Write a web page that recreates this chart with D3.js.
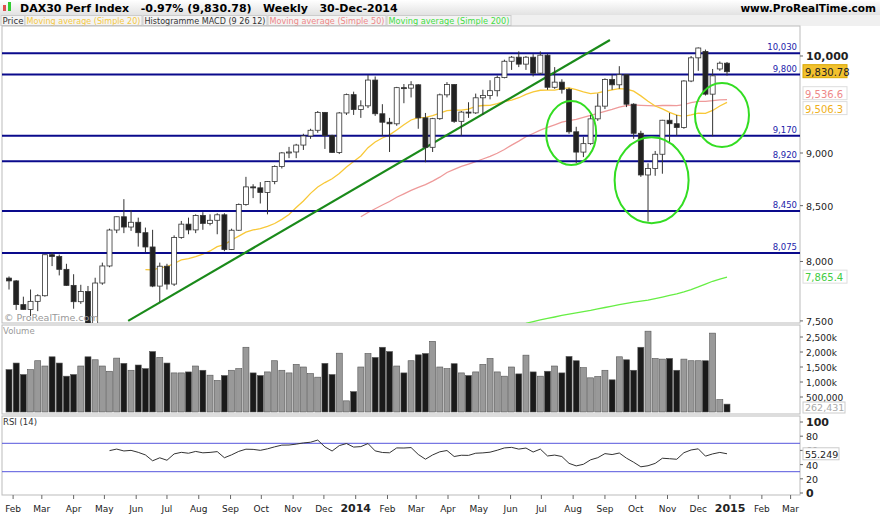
<!DOCTYPE html>
<html><head><meta charset="utf-8">
<script src="https://cdn.jsdelivr.net/npm/d3@7"></script>
<style>
body{margin:0;background:#fff;font-family:"DejaVu Sans",Verdana,sans-serif;}
svg text{font-family:"DejaVu Sans",Verdana,sans-serif;}
</style></head><body>
<div id="chart"></div>
<script>
// weekly candles, first week starts 28-Jan-2013
const opens = [7857,7833,7634,7594,7661,7708,8059,8043,7932,7795,7658,7744,7459,7815,7961,8278,8398,8305,8348,8254,8127,7789,7959,7806,8212,8331,8279,8410,8338,8366,8416,8104,8276,8510,8675,8666,8623,8725,8869,9001,9010,9078,9168,9225,9406,9172,9006,9400,
  9589,9435,9473,9742,9392,9306,9290,9662,9657,9692,9350,9056,9342,9587,9695,9315,9409,9401,9556,9581,9630,9768,9943,9987,9912,9987,9815,10009,9666,9720,9644,9210,9009,9092,9340,9470,9747,9692,9799,9490,9195,8788,8850,8988,9326,9291,9252,9732,9980,10050,9594,9860,9922];
const highs = [7871,7840,7700,7760,7720,8060,8080,8060,7980,7890,7800,7790,7860,7990,8290,8400,8560,8460,8390,8300,8280,7990,7980,8230,8360,8390,8420,8440,8420,8430,8430,8290,8520,8770,8700,8720,8730,8880,9010,9060,9090,9190,9240,9420,9410,9180,9410,9600,
  9620,9530,9795,9780,9490,9350,9670,9700,9730,9700,9400,9350,9600,9720,9700,9420,9510,9600,9640,9740,9790,9960,10000,10050,10000,10020,10050,10020,9880,9750,9660,9260,9160,9380,9600,9760,9800,9890,9800,9500,9220,8900,9020,9330,9400,9380,9740,10000,10093,10070,9860,9940,9935];
const lows = [7760,7590,7590,7540,7580,7700,7960,7880,7790,7600,7640,7420,7450,7800,7950,8250,8250,8270,8130,8080,7780,7655,7760,7790,8200,8240,8250,8280,8320,8240,8090,8100,8270,8500,8570,8520,8420,8700,8850,8950,8950,9030,9140,9200,9040,9000,8990,9380,
  9380,9350,9450,9370,9170,9010,9270,9500,9560,9240,8910,9010,9330,9560,9300,9170,9350,9390,9380,9540,9570,9760,9850,9880,9850,9780,9800,9640,9650,9600,9190,8900,8960,9080,9320,9440,9640,9650,9460,9140,8770,8355,8780,8800,9100,9170,9240,9720,9840,9580,9165,9840,9790];
const closes = [7833,7634,7594,7661,7708,8059,8043,7932,7795,7658,7744,7459,7815,7961,8278,8398,8305,8348,8254,8127,7789,7959,7806,8212,8331,8279,8410,8338,8366,8416,8104,8276,8510,8675,8666,8623,8725,8869,9001,9010,9078,9168,9225,9406,9172,9006,9400,9589,
  9435,9473,9742,9392,9306,9290,9662,9657,9692,9350,9056,9342,9587,9695,9315,9409,9401,9556,9581,9630,9768,9943,9987,9912,9987,9815,10009,9666,9720,9644,9210,9009,9092,9340,9470,9747,9692,9799,9490,9195,8788,8850,8988,9326,9291,9252,9732,9980,10087,9594,9787,9922,9831];
const volumesK = [1413,1632,1249,1413,1709,1533,1840,1632,1194,1249,1533,1840,1741,1533,1358,1796,1621,1391,1566,1446,2015,1818,1632,1303,1303,1336,1533,1391,1227,1051,1216,1391,1446,2158,1303,1216,1336,1709,1391,1303,1588,1500,1281,1161,1621,1249,1960,372,679,1500,1950,1818,2158,2015,1533,1303,1709,1906,1950,2355,1500,
  1446,1610,1303,1216,1336,1588,1785,1336,1194,1500,1270,1895,1336,1194,1358,1533,1303,1851,1709,1478,1139,1183,1391,1073,1840,1741,1391,2158,2694,1785,1763,1785,1391,1763,1709,1709,1709,2629,416,262];
// SMA 200 (weeks 73..100)
const sma200 = [7480,7495,7508,7520,7532,7545,7556,7566,7576,7586,7598,7610,7622,7634,7645,7654,7663,7672,7684,7697,7710,7724,7740,7760,7782,7806,7830,7848,7865];
const sma200Start = 72;
const levels = [10030, 9800, 9170, 8920, 8450, 8075];
const priceTicks = [10000, 9000, 8500, 8000, 7500];
const volTicks = [2500, 2000, 1500, 1000, 500];
const rsiTicks = [100, 80, 60, 40, 20, 0];
const months = ["Feb","Mar","Apr","May","Jun","Jul","Aug","Sep","Oct","Nov","Dec","2014","Feb","Mar","Apr","May","Jun","Jul","Aug","Sep","Oct","Nov","Dec","2015","Feb","Mar"];
// annotations: ellipses [week, price, rx, ry], trendline [week, price]
const circles = [[78.3, 9197, 25, 32], [89.5, 8738, 37, 43], [99.3, 9379, 27, 32]];
const trend = [[16.6, 7500], [83.7, 10175]];

const W = 880, H = 516, L = 2, R = 800;
const svg = d3.select("#chart").append("svg").attr("width", W).attr("height", H);

const t0 = new Date(2013, 0, 28), t1 = new Date(2014, 11, 29);
const xt = d3.scaleTime().domain([t0, t1]).range([9, 727]);
const x = d3.scaleLinear().domain([0, 100]).range([9, 727]);
const y = d3.scaleLog().domain([7483, 10331]).range([323, 26]);
const yv = d3.scaleLinear().domain([0, 2500]).range([412, 337]);
const yr = d3.scaleLinear().domain([0, 100]).range([493, 422]);

// header
const hg = svg.append("defs").append("linearGradient").attr("id", "hg").attr("x2", 0).attr("y2", 1);
hg.append("stop").attr("offset", 0).attr("stop-color", "#fff");
hg.append("stop").attr("offset", 1).attr("stop-color", "#e2e2e2");
svg.append("rect").attr("width", W).attr("height", 15).attr("fill", "url(#hg)");
svg.append("rect").attr("x", 3).attr("y", 5).attr("width", 3).attr("height", 6).attr("fill", "#e05050");
svg.append("rect").attr("x", 8).attr("y", 2).attr("width", 3).attr("height", 9).attr("fill", "#3c3");
svg.append("text").attr("x", 20).attr("y", 12).attr("font-size", 11).attr("font-weight", "bold")
  .attr("xml:space", "preserve").text("DAX30 Perf Index   -0.97% (9,830.78)   Weekly   30-Dec-2014");
svg.append("text").attr("x", 876).attr("y", 12).attr("font-size", 10.5).attr("font-weight", "bold")
  .attr("text-anchor", "end").text("www.ProRealTime.com");
svg.append("rect").attr("y", 15).attr("width", W).attr("height", 11).attr("fill", "#f0f0f0");
const legend = [["Price", "#333", 1, 24], ["Moving average (Simple 20)", "#f5c842", 25, 117], ["Histogramme MACD (9 26 12)", "#333", 143, 124],
  ["Moving average (Simple 50)", "#e88", 268, 118], ["Moving average (Simple 200)", "#4d4", 387, 124]];
legend.forEach(d => {
  svg.append("rect").attr("x", d[2]).attr("y", 15.5).attr("width", d[3]).attr("height", 10).attr("fill", "#f4f4f4").attr("stroke", "#ccc");
  svg.append("text").attr("x", d[2] + 1.5).attr("y", 24).attr("font-size", 8.6).attr("fill", d[1])
    .attr("textLength", d[3] - 3).attr("lengthAdjust", "spacingAndGlyphs").text(d[0]);
});

// panels
[[26, 323], [325, 414], [416, 495]].forEach(p => {
  svg.append("rect").attr("x", L).attr("y", p[0]).attr("width", R - L).attr("height", p[1] - p[0])
    .attr("fill", "none").attr("stroke", "#bbb");
});
svg.append("defs").append("clipPath").attr("id", "pc").append("rect").attr("x", L).attr("y", 26).attr("width", R - L).attr("height", 297);
const pg = svg.append("g").attr("clip-path", "url(#pc)");

// moving averages
function sma(n) { return closes.map((c, i) => i < n - 1 ? null : d3.mean(closes.slice(i - n + 1, i + 1))); }
const line = d3.line().defined(d => d != null).x((d, i) => x(i)).y(d => y(d));
pg.append("path").attr("d", line(sma(50))).attr("fill", "none").attr("stroke", "#ee9a9a").attr("stroke-width", 1.3);
pg.append("path").attr("d", line(sma(20))).attr("fill", "none").attr("stroke", "#f8c838").attr("stroke-width", 1.3);
pg.append("path").attr("d", d3.line().x((d, i) => x(i + sma200Start)).y(d => y(d))(sma200))
  .attr("fill", "none").attr("stroke", "#66ee44").attr("stroke-width", 1.3);

// levels
levels.forEach(v => {
  pg.append("line").attr("x1", L).attr("x2", R).attr("y1", y(v)).attr("y2", y(v)).attr("stroke", "#0a0a8c").attr("stroke-width", 2);
  svg.append("text").attr("x", 797).attr("y", y(v) - 3).attr("text-anchor", "end").attr("font-size", 8.5).attr("fill", "#22a")
    .text(d3.format(",")(v));
});
pg.append("line").attr("x1", x(trend[0][0])).attr("y1", y(trend[0][1])).attr("x2", x(trend[1][0])).attr("y2", y(trend[1][1]))
  .attr("stroke", "#1a8a1a").attr("stroke-width", 2.2);

// candles
const cw = 5;
closes.forEach((c, i) => {
  const o = opens[i], up = c >= o;
  pg.append("line").attr("x1", x(i)).attr("x2", x(i)).attr("y1", y(highs[i])).attr("y2", y(lows[i])).attr("stroke", "#333");
  pg.append("rect").attr("x", x(i) - cw / 2).attr("width", cw)
    .attr("y", y(Math.max(o, c))).attr("height", Math.max(1, Math.abs(y(o) - y(c))))
    .attr("fill", up ? "#fff" : "#222").attr("stroke", "#333").attr("stroke-width", 0.8);
});
circles.forEach(d => {
  pg.append("ellipse").attr("cx", x(d[0])).attr("cy", y(d[1])).attr("rx", d[2]).attr("ry", d[3])
    .attr("fill", "none").attr("stroke", "#33dd22").attr("stroke-width", 2);
});
svg.append("text").attr("x", 4).attr("y", 321).attr("font-size", 9.5).attr("fill", "#999").text("© ProRealTime.com");

// price axis
priceTicks.forEach(v => {
  svg.append("line").attr("x1", R).attr("x2", R + 3).attr("y1", y(v)).attr("y2", y(v)).attr("stroke", "#666");
  svg.append("text").attr("x", R + 6).attr("y", y(v) + 4).attr("font-size", v === 10000 ? 11 : 9.5)
    .attr("font-weight", v === 10000 ? "bold" : "normal").attr("fill", "#222").text(d3.format(",")(v));
});
function tag(v, dy, txt, fill, col, stroke) {
  const ty = y(v) + dy;
  svg.append("rect").attr("x", R + 3).attr("y", ty - 7).attr("width", 44).attr("height", 13).attr("fill", fill).attr("stroke", stroke);
  svg.append("text").attr("x", R + 5).attr("y", ty + 4).attr("font-size", 10).attr("fill", col).text(txt);
}
tag(closes[100], 0, "9,830.78", "#f2c12e", "#222", "#d8a800");
tag(9536.6, -6, "9,536.6", "#fff", "#e88", "#ddd");
tag(9506.3, 6, "9,506.3", "#fff", "#f0b020", "#ddd");
tag(sma200[sma200.length - 1], 0, "7,865.4", "#fff", "#4c4", "#ddd");

// volume
svg.append("text").attr("x", 3).attr("y", 334).attr("font-size", 8.5).attr("fill", "#999").text("Volume");
volumesK.forEach((v, i) => {
  const up = closes[i] >= opens[i];
  svg.append("rect").attr("x", x(i) - 3).attr("width", 6).attr("y", yv(v)).attr("height", yv(0) - yv(v))
    .attr("fill", up ? "#999" : "#1a1a1a").attr("stroke", "#555").attr("stroke-width", 0.6);
});
volTicks.forEach(v => {
  svg.append("line").attr("x1", R).attr("x2", R + 3).attr("y1", yv(v)).attr("y2", yv(v)).attr("stroke", "#666");
  svg.append("text").attr("x", R + 6).attr("y", yv(v) + 4).attr("font-size", 9).attr("fill", "#222")
    .text(v === 500 ? "500,000" : d3.format(",")(v) + "k");
});
svg.append("rect").attr("x", R + 3).attr("y", 402).attr("width", 42).attr("height", 11).attr("fill", "#fff").attr("stroke", "#ccc");
svg.append("text").attr("x", R + 5).attr("y", 411).attr("font-size", 9.5).attr("fill", "#aaa").text("262,431");

// RSI 14 (Wilder)
const rsi = [];
let ag = 0, al = 0;
closes.forEach((c, i) => {
  if (i === 0) { rsi.push(null); return; }
  const ch = c - closes[i - 1], g = Math.max(ch, 0), l = Math.max(-ch, 0);
  if (i <= 14) { ag += g / 14; al += l / 14; rsi.push(i < 14 ? null : 100 - 100 / (1 + ag / al)); }
  else { ag = (ag * 13 + g) / 14; al = (al * 13 + l) / 14; rsi.push(100 - 100 / (1 + ag / al)); }
});
svg.append("text").attr("x", 3).attr("y", 425).attr("font-size", 8.5).attr("fill", "#333").text("RSI (14)");
[70, 30].forEach(v => svg.append("line").attr("x1", L).attr("x2", R).attr("y1", yr(v)).attr("y2", yr(v)).attr("stroke", "#5555dd"));
svg.append("path").attr("d", d3.line().defined(d => d != null).x((d, i) => x(i)).y(d => yr(d))(rsi))
  .attr("fill", "none").attr("stroke", "#333").attr("stroke-width", 1);
rsiTicks.forEach(v => {
  svg.append("line").attr("x1", R).attr("x2", R + 3).attr("y1", yr(v)).attr("y2", yr(v)).attr("stroke", "#666");
  svg.append("text").attr("x", R + 6).attr("y", yr(v) + 4).attr("font-size", v % 100 === 0 ? 11 : 9.5)
    .attr("font-weight", v % 100 === 0 ? "bold" : "normal").attr("fill", "#222").text(v);
});
svg.append("rect").attr("x", R + 3).attr("y", yr(55.249) - 6).attr("width", 36).attr("height", 12).attr("fill", "#fff").attr("stroke", "#ccc");
svg.append("text").attr("x", R + 5).attr("y", yr(55.249) + 4).attr("font-size", 9.5).attr("fill", "#222").text("55.249");

// time axis
const ticks = d3.timeMonth.range(new Date(2013, 1, 1), new Date(2015, 2, 2));
ticks.forEach((t, i) => {
  const px = xt(t), big = months[i] === "2014" || months[i] === "2015";
  svg.append("line").attr("x1", px).attr("x2", px).attr("y1", 495).attr("y2", 499).attr("stroke", "#666");
  svg.append("text").attr("x", px).attr("y", 512).attr("text-anchor", "middle").attr("font-size", big ? 11 : 9)
    .attr("font-weight", big ? "bold" : "normal").attr("fill", "#222").text(months[i]);
});
</script></body></html>
